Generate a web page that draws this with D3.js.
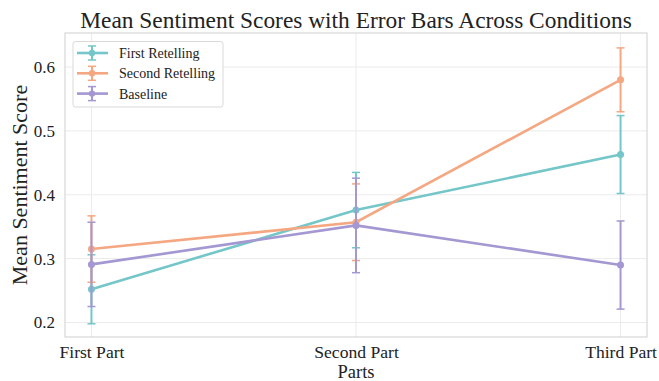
<!DOCTYPE html>
<html>
<head>
<meta charset="utf-8">
<script src="https://cdn.jsdelivr.net/npm/d3@7/dist/d3.min.js"></script>
<style>
  html, body { margin: 0; padding: 0; background: #fff; overflow: hidden; }
  svg { display: block; }
  text { font-family: "Liberation Serif", "Times New Roman", serif; fill: #222; }
</style>
</head>
<body>
<div id="chart"></div>
<script>
// Conditions along the x axis
const parts = ["First Part", "Second Part", "Third Part"];

// Series names and colours
const seriesNames = ["First Retelling", "Second Retelling", "Baseline"];
const seriesColors = ["#74c6c8", "#f5a782", "#a497d2"];

// Mean sentiment per part, and the error (half-length of each bar)
const firstRetellingMean = [0.252, 0.376, 0.463];
const firstRetellingErr  = [0.054, 0.059, 0.061];
const secondRetellingMean = [0.315, 0.357, 0.580];
const secondRetellingErr  = [0.052, 0.060, 0.050];
const baselineMean = [0.291, 0.352, 0.290];
const baselineErr  = [0.066, 0.074, 0.069];

const yTicks = [0.2, 0.3, 0.4, 0.5, 0.6];

const W = 659, H = 381;
const plot = { left: 65, right: 647, top: 33, bottom: 337 };

const series = [
  { name: seriesNames[0], color: seriesColors[0], mean: firstRetellingMean, err: firstRetellingErr },
  { name: seriesNames[1], color: seriesColors[1], mean: secondRetellingMean, err: secondRetellingErr },
  { name: seriesNames[2], color: seriesColors[2], mean: baselineMean, err: baselineErr }
];

const svg = d3.select("#chart").append("svg")
  .attr("width", W).attr("height", H);

const x = d3.scalePoint().domain(parts).range([plot.left, plot.right]).padding(0.1);
const y = d3.scaleLinear().domain([0.1773, 0.6533]).range([plot.bottom, plot.top]);

// Grid
const grid = svg.append("g");
grid.selectAll("line.h").data(yTicks).join("line")
  .attr("x1", plot.left).attr("x2", plot.right)
  .attr("y1", d => y(d)).attr("y2", d => y(d))
  .attr("stroke", "#ebebeb").attr("stroke-width", 1);
grid.selectAll("line.v").data(parts).join("line")
  .attr("y1", plot.top).attr("y2", plot.bottom)
  .attr("x1", d => x(d)).attr("x2", d => x(d))
  .attr("stroke", "#ebebeb").attr("stroke-width", 1);

// Axes (tick labels only; the frame is drawn separately)
const yAxis = svg.append("g")
  .attr("transform", `translate(${plot.left},0)`)
  .call(d3.axisLeft(y).tickValues(yTicks).tickFormat(d3.format(".1f")).tickSize(0).tickPadding(10));
yAxis.select(".domain").remove();
yAxis.selectAll("text").style("font-size", "17px").style("font-family", "Liberation Serif, serif").attr("fill", "#222");

const xAxis = svg.append("g")
  .attr("transform", `translate(0,${plot.bottom})`)
  .call(d3.axisBottom(x).tickSize(0).tickPadding(0));
xAxis.select(".domain").remove();
xAxis.selectAll("text")
  .attr("y", 20.5).attr("dy", null)
  .style("font-size", "17.6px").style("font-family", "Liberation Serif, serif").attr("fill", "#222");

// Frame
svg.append("rect")
  .attr("x", plot.left).attr("y", plot.top)
  .attr("width", plot.right - plot.left).attr("height", plot.bottom - plot.top)
  .attr("fill", "none").attr("stroke", "#cfcfcf").attr("stroke-width", 1);

// Series: line, error bars, markers
const line = d3.line().x((d, i) => x(parts[i])).y(d => y(d));
const capHalf = 4;

series.forEach(s => {
  const g = svg.append("g");
  g.append("path")
    .attr("d", line(s.mean))
    .attr("fill", "none").attr("stroke", s.color).attr("stroke-width", 2.6);
  const eb = g.selectAll("g.eb").data(s.mean.map((m, i) => ({ m, e: s.err[i], p: parts[i] }))).join("g");
  eb.append("line")
    .attr("x1", d => x(d.p)).attr("x2", d => x(d.p))
    .attr("y1", d => y(d.m - d.e)).attr("y2", d => y(d.m + d.e))
    .attr("stroke", s.color).attr("stroke-width", 2);
  [-1, 1].forEach(sgn => {
    eb.append("line")
      .attr("x1", d => x(d.p) - capHalf).attr("x2", d => x(d.p) + capHalf)
      .attr("y1", d => y(d.m + sgn * d.e)).attr("y2", d => y(d.m + sgn * d.e))
      .attr("stroke", s.color).attr("stroke-width", 1.5);
  });
  g.selectAll("circle").data(s.mean).join("circle")
    .attr("cx", (d, i) => x(parts[i])).attr("cy", d => y(d))
    .attr("r", 3.5).attr("fill", s.color);
});

// Legend
const leg = svg.append("g");
leg.append("rect")
  .attr("x", 73).attr("y", 41.5).attr("width", 150).attr("height", 65.5).attr("rx", 2.5)
  .attr("fill", "#fff").attr("fill-opacity", 0.85)
  .attr("stroke", "#d9d9d9").attr("stroke-width", 1);
series.forEach((s, i) => {
  const cy = 53 + i * 20.3;
  const cx = 92;
  leg.append("line").attr("x1", 77).attr("x2", 108).attr("y1", cy).attr("y2", cy)
    .attr("stroke", s.color).attr("stroke-width", 2.6);
  leg.append("line").attr("x1", cx).attr("x2", cx).attr("y1", cy - 7).attr("y2", cy + 7)
    .attr("stroke", s.color).attr("stroke-width", 2);
  [-7, 7].forEach(o => leg.append("line")
    .attr("x1", cx - capHalf).attr("x2", cx + capHalf).attr("y1", cy + o).attr("y2", cy + o)
    .attr("stroke", s.color).attr("stroke-width", 1.5));
  leg.append("circle").attr("cx", cx).attr("cy", cy).attr("r", 3.2).attr("fill", s.color);
  leg.append("text").attr("x", 119).attr("y", cy).attr("dy", "0.35em")
    .style("font-size", "14px").text(s.name);
});

// Titles
svg.append("text")
  .attr("x", (plot.left + plot.right) / 2).attr("y", 28)
  .attr("text-anchor", "middle").style("font-size", "23.4px")
  .text("Mean Sentiment Scores with Error Bars Across Conditions");
svg.append("text")
  .attr("x", (plot.left + plot.right) / 2).attr("y", 377.5)
  .attr("text-anchor", "middle").style("font-size", "18.5px")
  .text("Parts");
svg.append("text")
  .attr("transform", `translate(27,${(plot.top + plot.bottom) / 2}) rotate(-90)`)
  .attr("text-anchor", "middle").style("font-size", "22px")
  .text("Mean Sentiment Score");
</script>
</body>
</html>
